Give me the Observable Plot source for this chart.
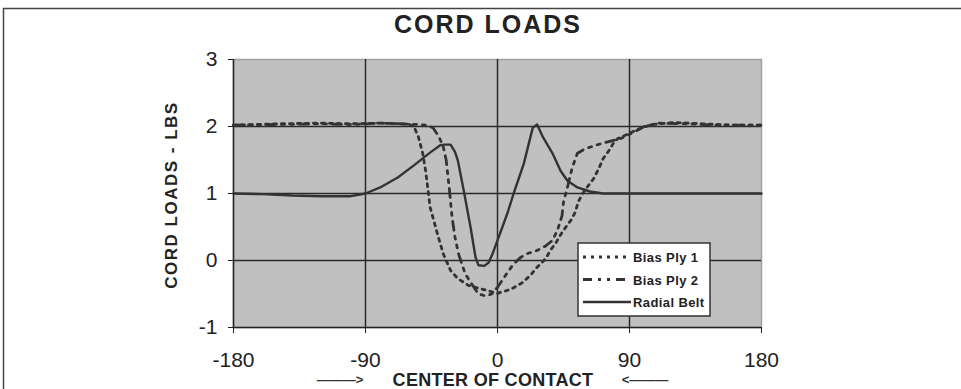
<!DOCTYPE html>
<html>
<head>
<meta charset="utf-8">
<script src="https://cdn.jsdelivr.net/npm/d3@7"></script>
<script src="https://cdn.jsdelivr.net/npm/@observablehq/plot@0.6"></script>
<style>
  html, body { margin: 0; padding: 0; background: #fff; }
  #wrap { position: relative; width: 961px; height: 389px; overflow: hidden; }
  #wrap svg.overlay { position: absolute; left: 0; top: 0; pointer-events: none; }
</style>
</head>
<body>
<div id="wrap"></div>
<script>
// ---- data ----
const title = "CORD LOADS";
const yLabel = "CORD LOADS - LBS";
const xLabel = "CENTER OF CONTACT";
const xTicks = [-180, -90, 0, 90, 180];
const yTicks = [-1, 0, 1, 2, 3];
const xGrid = [-90, 0, 90];
const yGrid = [0, 1, 2];
const seriesNames = ["Bias Ply 1", "Bias Ply 2", "Radial Belt"];

const ply1X = [-180,-150,-120,-100,-80,-65,-60,-57,-54,-51,-49,-46,-41,-37,-32,-27,-20,-10,0,9,17,22.5,27,33,36,40,44,50,53,55,58,62,65.5,69,72,76,79,82,88,95,105,120,140,160,180];
const ply1Y = [2.02,2.04,2.05,2.04,2.05,2.04,2.03,2.0,1.85,1.6,1.34,0.8,0.4,0.1,-0.15,-0.27,-0.37,-0.43,-0.49,-0.43,-0.33,-0.22,-0.1,0.03,0.15,0.27,0.42,0.6,0.72,0.87,1.0,1.12,1.22,1.37,1.52,1.64,1.75,1.82,1.88,1.95,2.03,2.06,2.04,2.02,2.02];

const ply2X = [-180,-150,-120,-100,-80,-65,-55,-48,-44,-40,-37,-35,-33,-31,-29,-26.6,-22,-17,-13,-8,-4,0,5.5,11,16,20,27,33,37.5,41,44,45,48,51,54.5,60,63,71.5,84,95,100,110,130,150,180];
const ply2Y = [2.02,2.03,2.04,2.03,2.05,2.04,2.03,2.02,1.98,1.85,1.7,1.5,1.1,0.65,0.35,0.1,-0.2,-0.37,-0.5,-0.53,-0.5,-0.4,-0.22,-0.05,0.05,0.1,0.15,0.22,0.3,0.46,0.67,0.87,1.12,1.39,1.6,1.67,1.69,1.75,1.82,1.94,2.0,2.05,2.04,2.02,2.02];

const radX = [-180,-160,-140,-120,-100,-90,-80,-68,-57,-46,-39,-36,-32,-29,-27,-23,-18.4,-15,-13,-9,-6,-3,0,7,11,18,24,27,31,37.5,43,47.7,54.5,63,72,90,120,150,180];
const radY = [1.0,0.99,0.97,0.96,0.96,1.0,1.09,1.24,1.42,1.61,1.72,1.73,1.73,1.62,1.49,1.04,0.5,0.05,-0.07,-0.08,-0.03,0.12,0.3,0.72,1.0,1.45,1.98,2.03,1.84,1.6,1.34,1.19,1.09,1.03,1.0,1.0,1.0,1.0,1.0];

// ---- styles ----
const dashes = { "Bias Ply 1": "3,5", "Bias Ply 2": "9,6,3,6,3,6", "Radial Belt": null };
const widths = { "Bias Ply 1": 2.8, "Bias Ply 2": 2.8, "Radial Belt": 2.4 };
const lineColor = "#333";

const toRows = (name, xs, ys) => xs.map((x, i) => ({ series: name, x, y: ys[i] }));
const rows = [
  toRows(seriesNames[0], ply1X, ply1Y),
  toRows(seriesNames[1], ply2X, ply2Y),
  toRows(seriesNames[2], radX, radY)
];

const W = 961, H = 389;
const mL = 233, mR = 200, mT = 59, mB = 62;

const chart = Plot.plot({
  width: W, height: H,
  marginLeft: mL, marginRight: mR, marginTop: mT, marginBottom: mB,
  style: { fontFamily: "'Liberation Sans', Arial, sans-serif", fontSize: "21px", color: "#222", background: "transparent" },
  x: { domain: [-180, 180] },
  y: { domain: [-1, 3] },
  marks: [
    Plot.frame({ fill: "#c0c0c0", stroke: "#a0a0a0", strokeWidth: 1.5 }),
    Plot.ruleX(xGrid, { stroke: "#2a2a2a", strokeWidth: 1.5 }),
    Plot.ruleY(yGrid, { stroke: "#2a2a2a", strokeWidth: 1.5 }),
    Plot.ruleX([-180], { stroke: "#222", strokeWidth: 1.5 }),
    Plot.ruleY([-1], { stroke: "#222", strokeWidth: 1.5 }),
    ...rows.map(r => Plot.line(r, {
      x: "x", y: "y", stroke: lineColor,
      strokeWidth: widths[r[0].series],
      strokeDasharray: dashes[r[0].series] || undefined,
      strokeLinejoin: "round"
    })),
    Plot.axisX({ ticks: xTicks, tickSize: 6, tickPadding: 19, tickFormat: d => String(d), label: null, stroke: "#222" }),
    Plot.axisY({ ticks: yTicks, tickSize: 5, tickPadding: 11, tickFormat: d => String(d), label: null, stroke: "#222" })
  ]
});

const wrap = document.getElementById("wrap");
wrap.appendChild(chart);

// ---- overlay: frame border, title, axis labels, legend ----
const ov = d3.select(wrap).append("svg").attr("class", "overlay")
  .attr("width", W).attr("height", H)
  .style("font-family", "'Liberation Sans', Arial, sans-serif");

ov.append("path").attr("d", "M3.5,400 V8.5 H970").attr("fill", "none")
  .attr("stroke", "#444").attr("stroke-width", 1.5);

ov.append("text").text(title)
  .attr("x", 488).attr("y", 33).attr("text-anchor", "middle")
  .attr("font-size", 25).attr("font-weight", "bold").attr("letter-spacing", 2)
  .attr("fill", "#222");

ov.append("text").text(yLabel)
  .attr("transform", "translate(177,195) rotate(-90)").attr("text-anchor", "middle")
  .attr("font-size", 17).attr("font-weight", "bold").attr("letter-spacing", 1.5)
  .attr("fill", "#222");

ov.append("text").text(xLabel)
  .attr("x", 493).attr("y", 386).attr("text-anchor", "middle")
  .attr("font-size", 18).attr("font-weight", "bold").attr("letter-spacing", 0.3).attr("fill", "#222");
ov.append("text").text("———>")
  .attr("x", 340).attr("y", 384).attr("text-anchor", "middle")
  .attr("font-size", 13).attr("font-weight", "bold").attr("fill", "#333");
ov.append("text").text("<———")
  .attr("x", 645).attr("y", 384).attr("text-anchor", "middle")
  .attr("font-size", 13).attr("font-weight", "bold").attr("fill", "#333");

// legend
const lg = ov.append("g");
lg.append("rect").attr("x", 578).attr("y", 243).attr("width", 132).attr("height", 73)
  .attr("fill", "#fff").attr("stroke", "#333").attr("stroke-width", 1.5);
seriesNames.forEach((name, i) => {
  const y = 257 + i * 22.5;
  lg.append("line").attr("x1", 583).attr("x2", 631).attr("y1", y).attr("y2", y)
    .attr("stroke", lineColor).attr("stroke-width", widths[name])
    .attr("stroke-dasharray", dashes[name]);
  lg.append("text").text(name).attr("x", 633).attr("y", y + 5)
    .attr("font-size", 13).attr("font-weight", "bold").attr("letter-spacing", 0.4)
    .attr("fill", "#222");
});
</script>
</body>
</html>
